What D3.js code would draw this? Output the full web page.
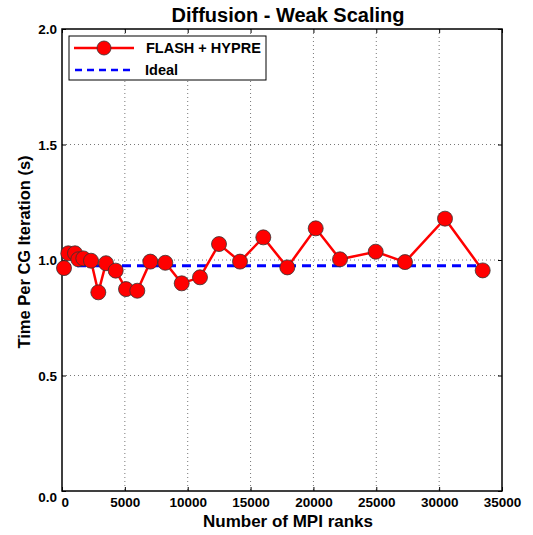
<!DOCTYPE html>
<html>
<head>
<meta charset="utf-8">
<script src="https://cdn.jsdelivr.net/npm/d3@7"></script>
<style>
    body { margin: 0; background: #fff; }
    svg text { font-family: "Liberation Sans", Arial, sans-serif; font-weight: bold; fill: #000; }
</style>
</head>
<body>
<svg id="chart" width="533" height="535"></svg>
<script>
    // ranks and measured time per CG iteration (FLASH + HYPRE)
    var ranks = [160, 500, 1034, 1297, 1694, 2307, 2888, 3500, 4272, 5091, 5990, 7024, 8217,
        9522, 10977, 12489, 14159, 16013, 17922, 20181, 22114, 24954, 27284, 30466, 33465];
    var times = [0.965, 1.029, 1.029, 1.003, 1.007, 0.997, 0.860, 0.986, 0.954, 0.874, 0.867, 0.993, 0.988,
        0.899, 0.925, 1.069, 0.993, 1.098, 0.968, 1.137, 1.003, 1.036, 0.991, 1.179, 0.955];
    var idealX = [0, 33465];
    var idealY = [0.975, 0.975];
    var xTicks = [0, 5000, 10000, 15000, 20000, 25000, 30000, 35000];
    var yTicks = [0.0, 0.5, 1.0, 1.5, 2.0];

    var plotL = 62, plotR = 502, plotT = 29, plotB = 491;

    var x = d3.scaleLinear().domain([0, 35000]).range([plotL, plotR]);
    var y = d3.scaleLinear().domain([0, 2]).range([plotB, plotT]);

    var svg = d3.select("#chart");

    // grid
    svg.append("g").selectAll("line")
        .data(xTicks.slice(1, -1))
        .enter().append("line")
        .attr("x1", function(d) { return x(d); })
        .attr("x2", function(d) { return x(d); })
        .attr("y1", plotT).attr("y2", plotB)
        .attr("stroke", "#777").attr("stroke-width", 1)
        .attr("stroke-dasharray", "1,3");
    svg.append("g").selectAll("line")
        .data(yTicks.slice(1, -1))
        .enter().append("line")
        .attr("y1", function(d) { return y(d); })
        .attr("y2", function(d) { return y(d); })
        .attr("x1", plotL).attr("x2", plotR)
        .attr("stroke", "#777").attr("stroke-width", 1)
        .attr("stroke-dasharray", "1,3");

    // axes, ticks pointing inward
    var xAxis = svg.append("g")
        .attr("transform", "translate(0," + plotB + ")")
        .call(d3.axisBottom(x).tickValues(xTicks).tickSizeInner(-4).tickSizeOuter(0).tickPadding(6)
            .tickFormat(d3.format("d")));
    var xTop = svg.append("g")
        .attr("transform", "translate(0," + plotT + ")")
        .call(d3.axisTop(x).tickValues(xTicks).tickSizeInner(-4).tickSizeOuter(0).tickFormat(""));
    var yAxis = svg.append("g")
        .attr("transform", "translate(" + plotL + ",0)")
        .call(d3.axisLeft(y).tickValues(yTicks).tickSizeInner(-4).tickSizeOuter(0).tickPadding(5)
            .tickFormat(d3.format(".1f")));
    var yRight = svg.append("g")
        .attr("transform", "translate(" + plotR + ",0)")
        .call(d3.axisRight(y).tickValues(yTicks).tickSizeInner(-4).tickSizeOuter(0).tickFormat(""));

    [xAxis, xTop, yAxis, yRight].forEach(function(g) {
        g.select(".domain").remove();
        g.selectAll("line").attr("stroke", "#000");
        g.selectAll("text").attr("font-size", 13.5).attr("font-family", null);
    });
    xAxis.selectAll("text").attr("dy", "0.71em");
    yAxis.selectAll("text").attr("dy", "0.35em");
    yAxis.selectAll(".tick").filter(function(d) { return d === 0; }).select("text").attr("dy", "0.75em");
    xAxis.selectAll(".tick").filter(function(d) { return d === 0; }).select("text").attr("dx", "0.2em");

    // frame
    svg.append("rect")
        .attr("x", plotL).attr("y", plotT)
        .attr("width", plotR - plotL).attr("height", plotB - plotT)
        .attr("fill", "none").attr("stroke", "#000").attr("stroke-width", 1.5);

    // ideal line
    svg.append("path")
        .datum(d3.range(idealX.length))
        .attr("fill", "none").attr("stroke", "#0000ff").attr("stroke-width", 3)
        .attr("stroke-dasharray", "9,6")
        .attr("d", d3.line().x(function(i) { return x(idealX[i]); }).y(function(i) { return y(idealY[i]); }));

    // measured line + markers
    var idx = d3.range(ranks.length);
    svg.append("path")
        .datum(idx)
        .attr("fill", "none").attr("stroke", "#ff0000").attr("stroke-width", 2.5)
        .attr("d", d3.line().x(function(i) { return x(ranks[i]); }).y(function(i) { return y(times[i]); }));
    svg.append("g").selectAll("circle")
        .data(idx)
        .enter().append("circle")
        .attr("cx", function(i) { return x(ranks[i]); })
        .attr("cy", function(i) { return y(times[i]); })
        .attr("r", 7.5)
        .attr("fill", "#ff0000").attr("stroke", "#333").attr("stroke-width", 0.8);

    // legend
    var lg = svg.append("g");
    lg.append("rect").attr("x", 69).attr("y", 36).attr("width", 197).attr("height", 44)
        .attr("fill", "#fff").attr("stroke", "#000").attr("stroke-width", 1);
    lg.append("line").attr("x1", 74).attr("x2", 134).attr("y1", 48).attr("y2", 48)
        .attr("stroke", "#ff0000").attr("stroke-width", 2.5);
    lg.append("circle").attr("cx", 104).attr("cy", 48).attr("r", 7)
        .attr("fill", "#ff0000").attr("stroke", "#333").attr("stroke-width", 0.8);
    lg.append("text").attr("x", 146).attr("y", 53).attr("font-size", 14.5).text("FLASH + HYPRE");
    lg.append("line").attr("x1", 75).attr("x2", 134).attr("y1", 70).attr("y2", 70)
        .attr("stroke", "#0000ff").attr("stroke-width", 2.5).attr("stroke-dasharray", "7,5");
    lg.append("text").attr("x", 145).attr("y", 75).attr("font-size", 14.5).text("Ideal");

    // titles
    svg.append("text").attr("x", (plotL + plotR) / 2 + 6).attr("y", 22)
        .attr("text-anchor", "middle").attr("font-size", 20).text("Diffusion - Weak Scaling");
    svg.append("text").attr("x", (plotL + plotR) / 2 + 6).attr("y", 527)
        .attr("text-anchor", "middle").attr("font-size", 17).text("Number of MPI ranks");
    svg.append("text")
        .attr("transform", "translate(30,252) rotate(-90)")
        .attr("text-anchor", "middle").attr("font-size", 16.5).text("Time Per CG Iteration (s)");
</script>
</body>
</html>
